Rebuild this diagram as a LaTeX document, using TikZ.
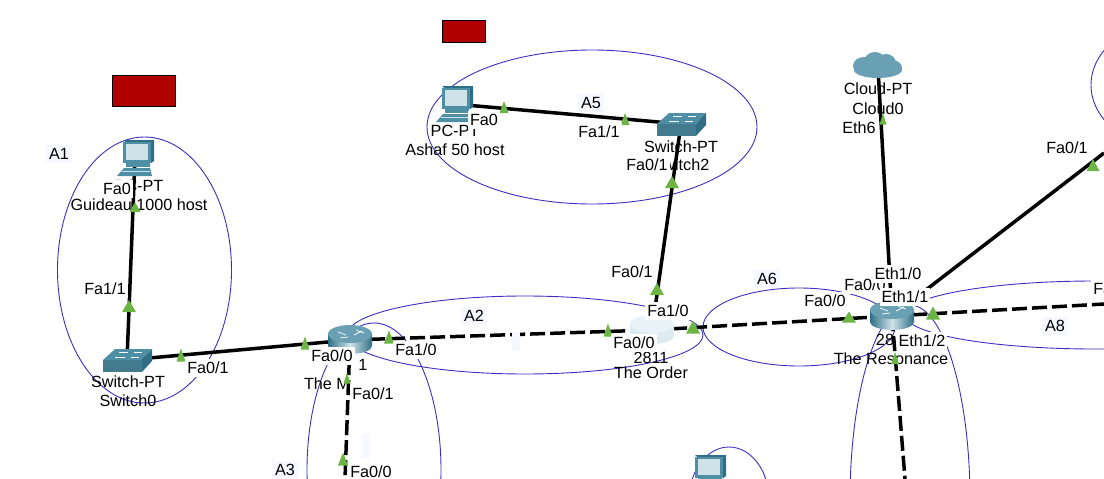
\documentclass[tikz,border=0pt]{standalone}
\usepackage{fontspec}
\setmainfont{Liberation Sans}
\definecolor{zoneblue}{HTML}{3A2FC0}
\definecolor{linkgreen}{HTML}{6CB544}
\definecolor{alarmred}{HTML}{B00000}
\definecolor{paleblue}{HTML}{F6F7FF}
\definecolor{ciscoteal}{HTML}{4F8FA6}
\definecolor{ciscodark}{HTML}{2F6F86}
\definecolor{ciscolight}{HTML}{CFE2EA}
\tikzset{
  zone/.style={draw=zoneblue,line width=0.9pt},
  link/.style={line width=3.5pt,black},
  dashlink/.style={link,dash pattern=on 15pt off 5pt},
  device/.style={inner sep=0pt,minimum size=0pt},
  devname/.style={font=\fontsize{16.2}{18}\selectfont,inner sep=0pt},
  portlabel/.style={font=\fontsize{16.2}{18}\selectfont,fill=white,inner xsep=2pt,inner ysep=3pt},
  arealabel/.style={font=\fontsize{16.2}{18}\selectfont,fill=paleblue,inner sep=3pt},
  alarm/.style={draw=black,fill=alarmred,line width=0.8pt},
  pics/pcicon/.style={code={
      \fill[ciscodark] (-12,-18) -- (19,-18) -- (19,3) -- (16,5) -- cycle;
      \fill[ciscoteal] (-12,-16) rectangle (16,5);
      \fill[ciscolight] (-9,-14) rectangle (13,2);
      \fill[ciscoteal] (-9,5) rectangle (15,9);
      \fill[ciscoteal] (-18,18) -- (-11,10) -- (15,10) -- (17,18) -- cycle;
      \draw[ciscolight,line width=0.6pt] (-13,13) -- (15,13);
    }},
  pics/switchicon/.style={code={
      \fill[ciscoteal] (-24,0) -- (15,0) -- (25,-11) -- (-12,-11) -- cycle;
      \fill[ciscoteal!85!black] (-24,0) rectangle (15,12);
      \fill[ciscodark] (15,0) -- (25,-11) -- (25,1) -- (15,12) -- cycle;
      \draw[white,line width=0.5pt] (-12,-3) -- (-2,-3) (4,-3) -- (12,-3) (-8,-8) -- (1,-8) (7,-8) -- (15,-8);
    }},
  pics/routericon/.style={code={
      \shade[left color=ciscodark,right color=ciscodark,middle color=ciscolight]
        (-22,-6) -- (-22,6) arc (180:0:22 and 8) -- (22,-6) -- cycle;
      \fill[ciscoteal!85!white] (0,-6) ellipse (22 and 9);
      \draw[white,line width=0.7pt] (-12,-8) -- (-4,-5) (4,-5) -- (12,-9) (-10,-2) -- (-2,-3) (6,-10) -- (14,-7);
    }},
  pics/palerouter/.style={code={
      \fill[ciscolight!70] (-22,-6) -- (-22,6) arc (180:0:22 and 8) -- (22,-6) -- cycle;
      \fill[ciscolight!45] (0,-6) ellipse (22 and 9);
    }},
  pics/cloudicon/.style={code={
      \fill[ciscoteal!85!white] (-14,-2) ellipse (11 and 9) (-3,-6) ellipse (11 and 10) (8,-5) ellipse (10 and 9)
        (14,0) ellipse (10 and 8) (0,2) ellipse (24 and 8);
    }}
}

\begin{document}
\begin{tikzpicture}[x=1pt,y=-1pt]
  \useasboundingbox (0,0) rectangle (1104,479);
  \clip (0,0) rectangle (1104,479);

  % areas
  \foreach \cx/\cy/\rx/\ry in {
      144.5/270/87/133,
      592/127/165/77,
      525/335/178/39,
      374/470/67/147,
      729/500/40/53,
      799/327/96/39,
      910/500/60/195,
      1095/315/190/34,
      1191/85/100/70
    } {
      \draw[zone] (\cx,\cy) ellipse (\rx pt and \ry pt);
    };

  % alarm boxes
  \draw[alarm] (112,75) rectangle (175,106);
  \draw[alarm] (442,20) rectangle (485,42);

  % devices
  \node[device] (pczero) at (135,158) {};
  \node[device] (pcone) at (454,104) {};
  \node[device] (pctwo) at (707,473) {};
  \node[device] (swzero) at (127,360) {};
  \node[device] (swtwo) at (681,124) {};
  \node[device] (mrouter) at (350,340) {};
  \node[device] (order) at (652,330) {};
  \node[device] (resonance) at (892,316) {};
  \node[device] (cloud) at (878,68) {};
  \coordinate (eastend) at (1104,304);
  \coordinate (northeast) at (1104,153);
  \coordinate (southm) at (345,479);
  \coordinate (southres) at (905,479);

  % links
  \draw[link] (pczero) -- (swzero);
  \draw[link] (swzero) -- (mrouter);
  \draw[link] (pcone) -- (swtwo);
  \draw[link] (swtwo) -- (order);
  \draw[link] (cloud) -- (resonance);
  \draw[link] (resonance) -- (northeast);
  \draw[dashlink] (mrouter) -- (order);
  \draw[dashlink] (order) -- (resonance);
  \draw[dashlink] (resonance) -- (eastend);
  \draw[dashlink] (mrouter) -- (southm);
  \draw[dashlink] (resonance) -- (southres);

  % icons
  \pic at (pczero) {pcicon};
  \pic at (pcone) {pcicon};
  \pic at (pctwo) {pcicon};
  \pic at (swzero) {switchicon};
  \pic at (swtwo) {switchicon};
  \pic at (mrouter) {routericon};
  \pic at (order) {palerouter};
  \pic at (resonance) {routericon};
  \pic at (cloud) {cloudicon};

  % device names
  \foreach \nm/\x/\y/\txt in {
      pczeromodel/139/186/PC-PT,
      pczeroname/139/205/Guideau 1000 host,
      swzeromodel/128/382/Switch-PT,
      swzeroname/128/401/Switch0,
      mmodel/363/365/1,
      mname/327/384/The M,
      pconemodel/455/131/PC-PT,
      pconename/455/150/Ashaf 50 host,
      swtwomodel/681/147/Switch-PT,
      swtwoname/681/165/Switch2,
      ordermodel/651/358/2811,
      ordername/651/373/The Order,
      resmodel/885/340/28,
      resname/891/359/The Resonance,
      cloudmodel/878/89/Cloud-PT,
      cloudname/878/109/Cloud0
    } {
      \node[devname] (\nm) at (\x,\y) {\txt};
    };

  % link lights
  \foreach \x/\y/\w/\h in {
      135/207/11/10, 129/306/14/12, 181/355/9/13, 305/343/9/13,
      389/337/10/13, 347/378/7/11, 343/459/10/13, 504/107/9/12,
      625/119/9/12, 672/182/14/12, 657/289/14/12, 608/330/9/13,
      693/327/14/13, 849/317/14/11, 933/313/14/13, 895/358/8/12,
      883/119/7/11, 1093/165/13/12
    } {
      \fill[linkgreen] ({\x-\w/2},{\y+\h/2}) -- (\x,{\y-\h/2}) -- ({\x+\w/2},{\y+\h/2}) -- cycle;
    };

  % port labels
  \foreach \nm/\x/\y/\txt in {
      pfa/117/189/Fa0,
      pfb/105/289/{Fa1/1},
      pfc/208/368/{Fa0/1},
      pfd/332/356/{Fa0/0},
      pfe/416/350/{Fa1/0},
      pff/373/394/{Fa0/1},
      pfg/371/472/{Fa0/0},
      pfh/484/120/Fa0,
      pfi/599/132/{Fa1/1},
      pfj/647/165/{Fa0/1},
      pfk/632/272/{Fa0/1},
      pfl/668/311/{Fa1/0},
      pfm/634/343/{Fa0/0},
      pfn/825/301/{Fa0/0},
      pfo/865/285/{Fa0/0},
      pfp/898/274/{Eth1/0},
      pfq/905/297/{Eth1/1},
      pfr/922/341/{Eth1/2},
      pfs/859/128/Eth6,
      pft/1067/148/{Fa0/1},
      pfu/1114/289/{Fa0/0}
    } {
      \node[portlabel] (\nm) at (\x,\y) {\txt};
    };

  % area labels
  \foreach \nm/\x/\y/\txt in {
      aone/59/154/A1,
      atwo/474/316/A2,
      athree/285/470/A3,
      afive/591/103/A5,
      asix/767/279/A6,
      aeight/1055/326/A8
    } {
      \node[arealabel] (\nm) at (\x,\y) {\txt};
    };
  \fill[paleblue] (512,332) rectangle (520,351);
  \fill[paleblue] (362,434) rectangle (370,458);
\end{tikzpicture}
\end{document}
